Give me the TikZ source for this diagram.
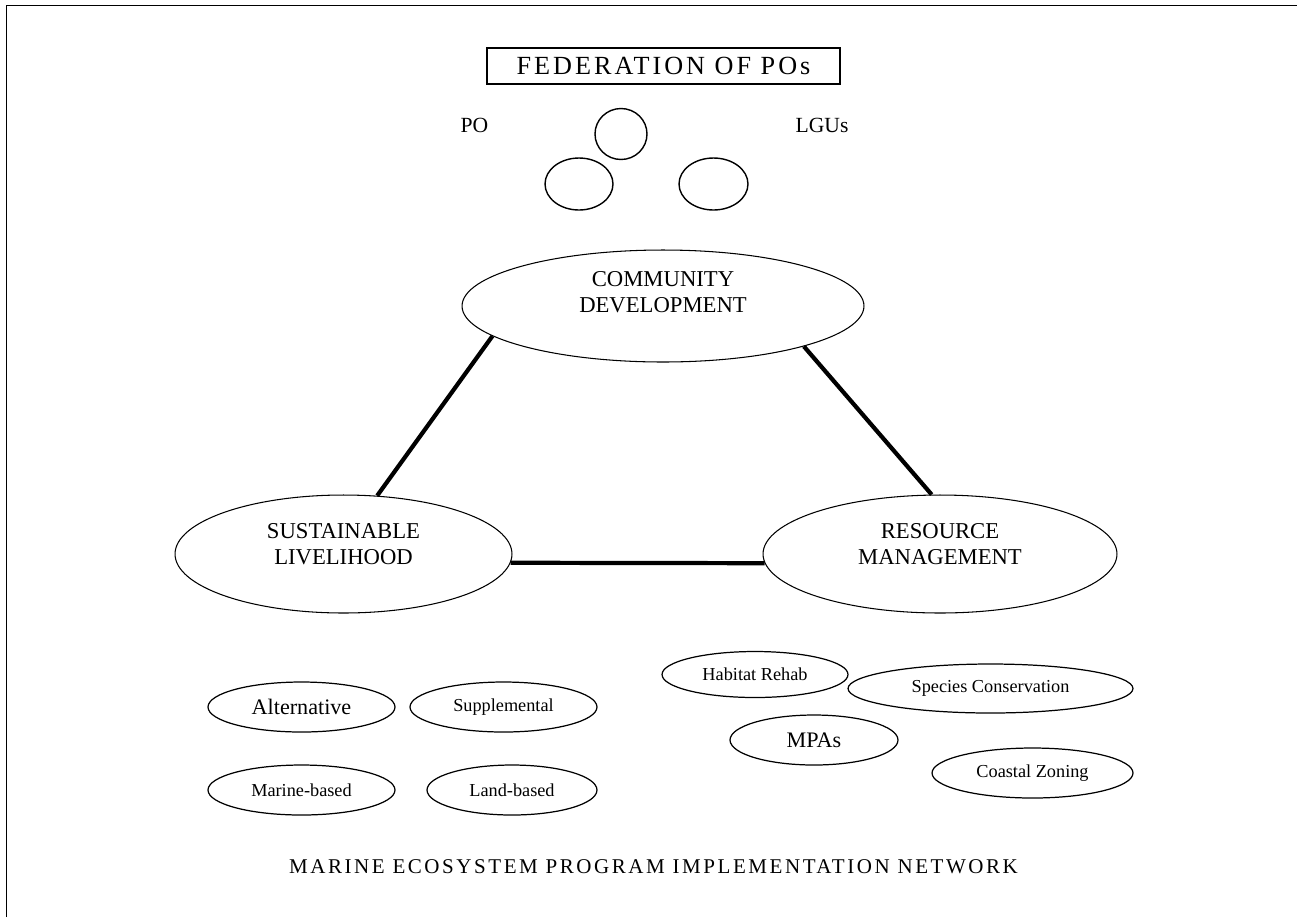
\documentclass[tikz,border=0pt]{standalone}
\usepackage{fontspec}
\setmainfont{Liberation Serif}
\newfontfamily\fedfont[LetterSpace=11.5]{Liberation Serif}
\newfontfamily\netfont[LetterSpace=12.2]{Liberation Serif}
\usepackage{tikz}
\usetikzlibrary{shapes.geometric}

\begin{document}
\begin{tikzpicture}[x=0.02cm, y=-0.02cm,
        oval/.style={draw, ellipse, line width=0.7pt, inner sep=0pt},
        bigtext/.style={align=center, font=\fontsize{12.9}{14.8}\selectfont},
        smalloval/.style={oval, minimum height=1cm, font=\fontsize{10.4}{12}\selectfont},
        bigword/.style={font=\fontsize{12.6}{14}\selectfont},
        enlace/.style={line width=2.4pt}]

        % Marco
        \useasboundingbox (0,0) rectangle (1297,917);
        \draw[line width=1.1pt] (6.5,917) -- (6.5,5.5) -- (1297,5.5);

        % Federacion, PO y LGUs
        \node[draw, line width=0.8pt, inner sep=0pt, minimum width=7.06cm, minimum height=0.72cm,
              font=\fedfont\fontsize{14.9}{16}\selectfont] (fed) at (663.5,66) {FEDERATION OF POs};
        \node[font=\fontsize{12.3}{14}\selectfont, anchor=base] (po) at (474.5,132) {PO};
        \node[font=\fontsize{12.3}{14}\selectfont, anchor=base] (lgu) at (822,132) {LGUs};
        \node[oval, line width=0.8pt, minimum width=1.04cm, minimum height=1.02cm] (c1) at (621,134) {};
        \node[oval, line width=0.8pt, minimum width=1.36cm, minimum height=1.04cm] (c2) at (579,184) {};
        \node[oval, line width=0.8pt, minimum width=1.38cm, minimum height=1.04cm] (c3) at (713.5,184) {};

        % Los tres ejes
        \node[oval, line width=0.6pt, minimum width=8.04cm, minimum height=2.24cm] (cd) at (663,306) {};
        \node[bigtext] (cdtext) at (663,292.5) {COMMUNITY\\DEVELOPMENT};
        \node[oval, line width=0.6pt, minimum width=6.74cm, minimum height=2.36cm] (sl) at (343.5,554) {};
        \node[bigtext] (sltext) at (343.5,544) {SUSTAINABLE\\LIVELIHOOD};
        \node[oval, line width=0.6pt, minimum width=7.08cm, minimum height=2.36cm] (rm) at (940,554) {};
        \node[bigtext] (rmtext) at (940,544) {RESOURCE\\MANAGEMENT};

        % Triangulo
        \draw[enlace] (cd.190) -- (sl.60);
        \draw[enlace] (cd.344) -- (rm.98);
        \draw[enlace] (sl.-3) -- (rm.183);

        % Medios de vida
        \node[smalloval, bigword, minimum width=3.74cm] (alt) at (301.5,707) {Alternative};
        \node[smalloval, minimum width=3.74cm] (sup) at (503.5,707) {Supplemental};
        \node[smalloval, minimum width=3.74cm] (mar) at (301.5,790) {Marine-based};
        \node[smalloval, minimum width=3.4cm] (land) at (512,790) {Land-based};

        % Manejo de recursos
        \node[smalloval, minimum width=3.72cm, minimum height=0.92cm] (hab) at (755,674.5) {Habitat Rehab};
        \node[smalloval, minimum width=5.7cm, minimum height=0.98cm] (spe) at (990.5,688.5) {Species Conservation};
        \node[smalloval, bigword, minimum width=3.36cm] (mpa) at (814,740) {MPAs};
        \node[smalloval, minimum width=4.02cm] (coast) at (1032.5,773) {Coastal Zoning};

        % Titulo
        \node[font=\netfont\fontsize{11.95}{14}\selectfont, anchor=base] (net) at (653.5,873)
            {MARINE ECOSYSTEM PROGRAM IMPLEMENTATION NETWORK};
\end{tikzpicture}
\end{document}
